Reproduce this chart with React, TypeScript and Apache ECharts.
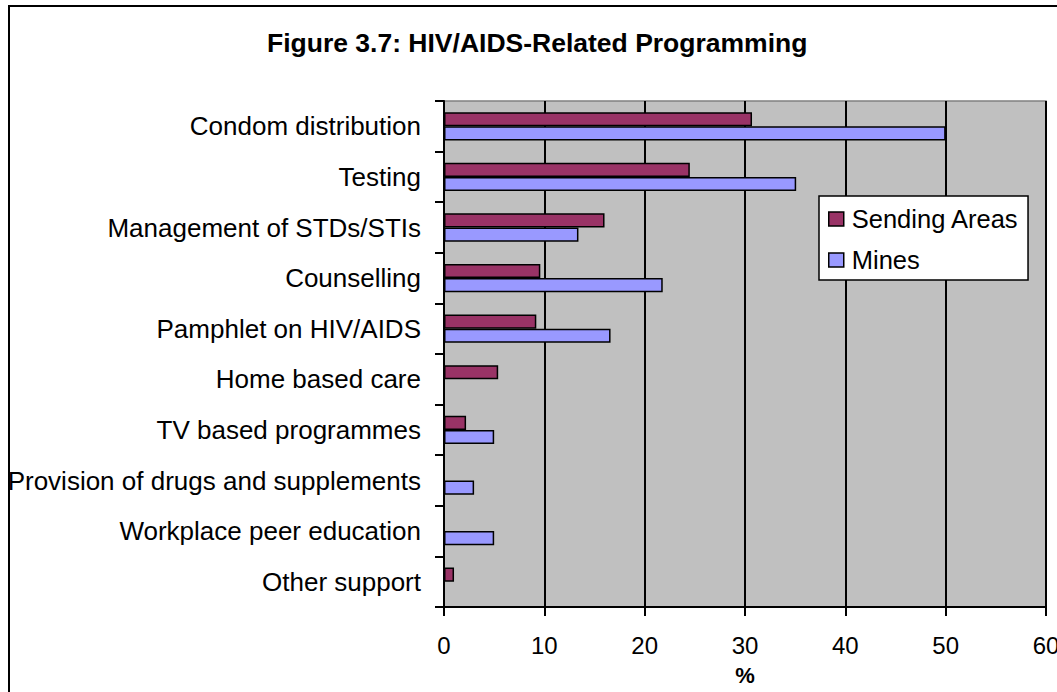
import React, { useEffect, useRef } from "react";
import * as echarts from "echarts";

const categories = [
  "Condom distribution",
  "Testing",
  "Management of STDs/STIs",
  "Counselling",
  "Pamphlet on HIV/AIDS",
  "Home based care",
  "TV based programmes",
  "Provision of drugs and supplements",
  "Workplace peer education",
  "Other support",
];
const sendingAreas = [30.7, 24.5, 16.0, 9.6, 9.2, 5.4, 2.2, 0, 0, 1.0];
const mines = [50.0, 35.1, 13.4, 21.8, 16.6, 0, 5.0, 3.0, 5.0, 0];
const xTicks = [0, 10, 20, 30, 40, 50, 60];

const FONT = "'Liberation Sans', Arial, sans-serif";

export default function App() {
  const ref = useRef<HTMLDivElement>(null);
  useEffect(() => {
    if (!ref.current) return;
    const chart = echarts.init(ref.current, undefined, { renderer: "svg" });
    chart.setOption({
      animation: false,
      backgroundColor: "#fff",
      textStyle: { fontFamily: FONT },
      title: {
        text: "Figure 3.7: HIV/AIDS-Related Programming",
        left: 267,
        top: 29,
        padding: 0,
        textStyle: { fontFamily: FONT, fontSize: 26.5, fontWeight: "bold", color: "#000" },
      },
      graphic: [
        {
          type: "rect",
          shape: { x: 9, y: 6, width: 1100, height: 720 },
          style: { fill: "none", stroke: "#000", lineWidth: 2 },
          silent: true,
          z: -1,
        },
      ],
      legend: {
        orient: "vertical",
        left: 819,
        top: 196,
        padding: [9, 9, 6, 9],
        backgroundColor: "#fff",
        borderColor: "#000",
        borderWidth: 1.5,
        itemWidth: 15,
        itemHeight: 14,
        itemGap: 13,
        icon: "rect",
        itemStyle: { borderColor: "#000", borderWidth: 1.5 },
        textStyle: { fontFamily: FONT, fontSize: 25.5, color: "#000", lineHeight: 28, padding: [0, 0, 0, 3] },
        data: ["Sending Areas", "Mines"],
      },
      grid: {
        left: 444,
        right: 11,
        top: 101,
        bottom: 85,
        outerBoundsMode: "none",
        containLabel: false,
        show: true,
        backgroundColor: "#C0C0C0",
        borderColor: "#808080",
        borderWidth: 1.5,
      },
      xAxis: {
        type: "value",
        min: xTicks[0],
        max: xTicks[xTicks.length - 1],
        interval: 10,
        name: "%",
        nameLocation: "middle",
        nameGap: 57,
        nameTextStyle: { fontFamily: FONT, fontSize: 22, fontWeight: "bold", color: "#000" },
        axisLine: { show: true, lineStyle: { color: "#000", width: 2 } },
        axisTick: { show: true, inside: false, length: 9, lineStyle: { color: "#000", width: 2 } },
        axisLabel: { fontFamily: FONT, fontSize: 24, color: "#000", margin: 26 },
        splitLine: { show: true, lineStyle: { color: "#000", width: 2 } },
      },
      yAxis: {
        type: "category",
        inverse: true,
        data: categories,
        axisLine: { show: true, lineStyle: { color: "#000", width: 2 } },
        axisTick: { show: true, inside: false, length: 9, alignWithLabel: false, lineStyle: { color: "#000", width: 2 } },
        axisLabel: { fontFamily: FONT, fontSize: 26, color: "#000", margin: 23 },
        splitLine: { show: false },
      },
      series: [
        {
          name: "Sending Areas",
          type: "bar",
          data: sendingAreas,
          barGap: "0%",
          barCategoryGap: "44%",
          itemStyle: { color: "#993366", borderColor: "#000", borderWidth: 1.5 },
        },
        {
          name: "Mines",
          type: "bar",
          data: mines,
          barGap: "0%",
          barCategoryGap: "44%",
          itemStyle: { color: "#9999FF", borderColor: "#000", borderWidth: 1.5 },
        },
      ],
    });
    return () => chart.dispose();
  }, []);
  return (
    <div
      ref={ref}
      style={{ position: "absolute", left: 0, top: 0, width: 1057, height: 692 }}
    />
  );
}
